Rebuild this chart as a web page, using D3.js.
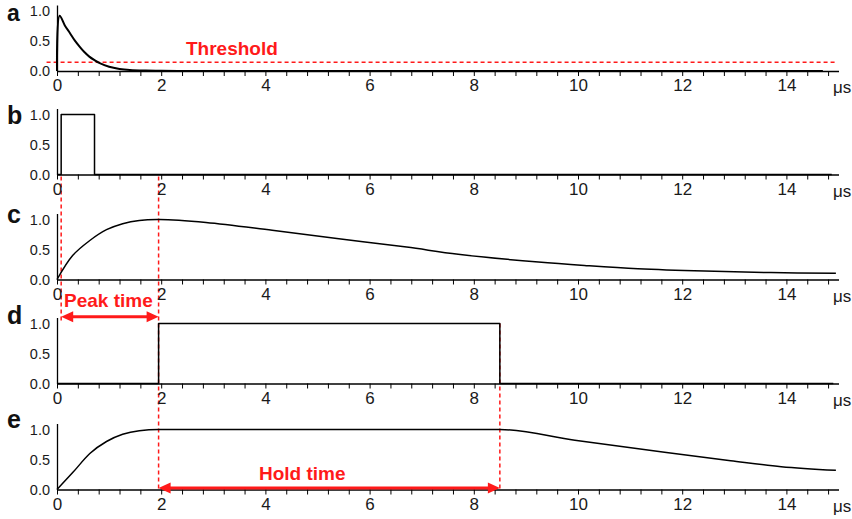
<!DOCTYPE html>
<html>
<head>
<meta charset="utf-8">
<script src="https://cdn.jsdelivr.net/npm/d3@7"></script>
<style>
body { margin: 0; background: #fff; }
text { font-family: "Liberation Sans", Arial, sans-serif; }
</style>
</head>
<body>
<svg id="chart" width="852" height="519"></svg>
<script>
// panel letters and tick labels
const panels = ["a", "b", "c", "d", "e"]
const majorTicks = [0, 2, 4, 6, 8, 10, 12, 14]
const yTicks = [0, 0.5, 1.0]
const unit = "μs"

// a: detector pulse
const aTime  = [0, 0.05, 0.15, 0.25, 0.34, 0.43, 0.52, 0.62, 0.72, 0.82, 1.0, 1.2, 1.4, 1.7, 2.0, 2.5, 3.0, 14.7]
const aValue = [0, 0.92, 0.76, 0.63, 0.51, 0.41, 0.32, 0.24, 0.18, 0.13, 0.07, 0.035, 0.017, 0.007, 0.003, 0.001, 0, 0]

// b: discriminator gate
const bTime  = [0, 0.08, 0.08, 0.72, 0.72, 14.87]
const bValue = [0, 0, 1, 1, 0, 0]

// c: shaped signal
const cTime  = [0, 0.3, 0.63, 0.95, 1.26, 1.58, 1.97, 2.86, 4.13, 5.41, 6.71, 7.7, 9.24, 10.19, 11.15, 12.43, 13.7, 14.95]
const cValue = [0, 0.40, 0.65, 0.83, 0.93, 0.985, 1.0, 0.95, 0.82, 0.68, 0.54, 0.42, 0.29, 0.23, 0.18, 0.14, 0.115, 0.105]

// d: hold gate
const dTime  = [0, 1.95, 1.95, 8.5, 8.5, 14.9]
const dValue = [0, 0, 1, 1, 0, 0]

// e: held output
const eTime  = [0, 0.31, 0.63, 0.95, 1.26, 1.58, 1.95, 8.5, 9.94, 11.66, 12.93, 13.9, 14.95]
const eValue = [0, 0.29, 0.60, 0.80, 0.92, 0.98, 1.0, 1.0, 0.82, 0.62, 0.48, 0.38, 0.32]

// annotations
const threshold = 0.145
const pulseStart = 0.08
const peakTime = 1.95
const holdEnd = 8.5

const series = [
    d3.zip(aTime, aValue),
    d3.zip(bTime, bValue),
    d3.zip(cTime, cValue),
    d3.zip(dTime, dValue),
    d3.zip(eTime, eValue)
]
const curves = [d3.curveCatmullRom.alpha(0.5), d3.curveLinear, d3.curveCatmullRom.alpha(0.5), d3.curveLinear, d3.curveMonotoneX]

const svg = d3.select("#chart")
const red = "#ff1a1a"

const x = d3.scaleLinear().domain([0, 15]).range([57, 838.5])
const base = [71, 174.5, 279.5, 383.5, 489.5]
const ys = base.map(b => d3.scaleLinear().domain([0, 1.1]).range([b, b - 66]))
const letterY = [21, 124, 222.7, 324, 428.3]
const minorTicks = d3.range(38).map(i => +(i * 0.4).toFixed(1))

// red dashed guides go underneath the curves
const guides = svg.append("g")
    .attr("stroke", red)
    .attr("stroke-width", 1.5)
    .attr("stroke-dasharray", "4,3")

guides.append("line")
    .attr("x1", x(-0.2)).attr("x2", x(14.95))
    .attr("y1", ys[0](threshold)).attr("y2", ys[0](threshold))
guides.append("line")
    .attr("x1", x(pulseStart)).attr("x2", x(pulseStart))
    .attr("y1", ys[1](0) + 2).attr("y2", ys[3](1.1) + 4)
guides.append("line")
    .attr("x1", x(peakTime)).attr("x2", x(peakTime))
    .attr("y1", ys[1](0) + 2).attr("y2", ys[4](0))
guides.append("line")
    .attr("x1", x(holdEnd)).attr("x2", x(holdEnd))
    .attr("y1", ys[3](1)).attr("y2", ys[4](0))

panels.forEach((p, i) => {
    const y = ys[i]
    const g = svg.append("g")

    // tick marks
    g.append("g")
        .attr("transform", `translate(0,${base[i]})`)
        .call(d3.axisBottom(x).tickValues(minorTicks).tickSize(5).tickSizeOuter(0).tickFormat(""))
        .call(a => a.select(".domain").attr("stroke-width", 1.3))
        .call(a => a.selectAll(".tick line").attr("stroke-width", 1))

    // tick labels
    g.append("g")
        .attr("transform", `translate(0,${base[i]})`)
        .call(d3.axisBottom(x).tickValues(majorTicks).tickSize(0).tickPadding(8).tickFormat(d3.format("d")))
        .call(a => a.select(".domain").remove())
        .call(a => a.selectAll("text")
            .attr("font-family", "Liberation Sans, Arial, sans-serif")
            .attr("font-size", 17).attr("fill", "#1a1a1a"))

    g.append("text")
        .attr("x", 833).attr("y", base[i] + 22)
        .attr("font-size", 17).attr("fill", "#1a1a1a")
        .text(unit)

    // y axis
    g.append("g")
        .attr("transform", `translate(${x(0)},0)`)
        .call(d3.axisLeft(y).tickValues(yTicks).tickSize(0).tickSizeOuter(0).tickPadding(7).tickFormat(d3.format(".1f")))
        .call(a => a.select(".domain").attr("stroke-width", 1.3))
        .call(a => a.selectAll("text")
            .attr("font-family", "Liberation Sans, Arial, sans-serif")
            .attr("font-size", 14.5).attr("fill", "#1a1a1a"))

    // panel letter
    g.append("text")
        .attr("x", 7).attr("y", letterY[i])
        .attr("font-size", i === 0 ? 23 : 25).attr("font-weight", "bold").attr("fill", "#111")
        .text(p)

    // signal
    const line = d3.line()
        .x(d => x(d[0]))
        .y(d => y(d[1]))
        .curve(curves[i])

    g.append("path")
        .datum(series[i])
        .attr("d", line)
        .attr("fill", "none")
        .attr("stroke", "#000")
        .attr("stroke-width", i === 0 ? 2 : 1.5)
        .attr("stroke-linejoin", "round")
})

// annotation texts
function label(txt, px, py) {
    svg.append("text")
        .attr("x", px).attr("y", py)
        .attr("font-size", 19).attr("font-weight", "bold")
        .attr("fill", red)
        .text(txt)
}
label("Threshold", 186, ys[0](0.27))
label("Peak time", 64, 307)
label("Hold time", 259, 480)

// double arrows
function arrow(x1, x2, yy) {
    const hl = 12, hw = 5.5
    svg.append("line")
        .attr("x1", x1 + hl - 2).attr("x2", x2 - hl + 2)
        .attr("y1", yy).attr("y2", yy)
        .attr("stroke", red).attr("stroke-width", 3)
    svg.append("path")
        .attr("d", `M${x1},${yy}L${x1 + hl},${yy - hw}L${x1 + hl},${yy + hw}Z`)
        .attr("fill", red)
    svg.append("path")
        .attr("d", `M${x2},${yy}L${x2 - hl},${yy - hw}L${x2 - hl},${yy + hw}Z`)
        .attr("fill", red)
}
arrow(x(pulseStart), x(peakTime), 316.7)
arrow(x(peakTime), x(holdEnd), 488)
</script>
</body>
</html>
